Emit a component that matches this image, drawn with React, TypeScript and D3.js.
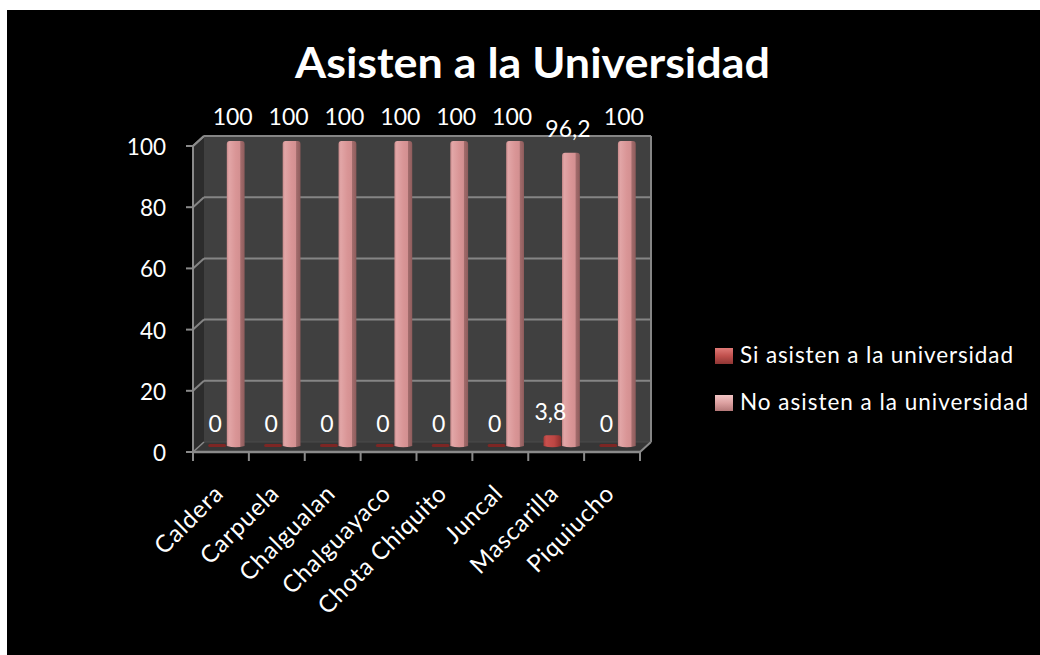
import React from "react";
import * as d3 from "d3";

const categories = ["Caldera", "Carpuela", "Chalgualan", "Chalguayaco", "Chota Chiquito", "Juncal", "Mascarilla", "Piquiucho"];
const seriesNames = ["Si asisten a la universidad", "No asisten a la universidad"];
const siValues = [0, 0, 0, 0, 0, 0, 3.8, 0];
const noValues = [100, 100, 100, 100, 100, 100, 96.2, 100];
const yTicks = [0, 20, 40, 60, 80, 100];

const W = 1040, H = 655;
const X0 = 193, X1 = 640, Y0 = 452, Y100 = 146;
const DX = 11, DY = -10;

const fmt = (v: number) => String(v).replace(".", ",");

export default function App() {
  const yFront = d3.scaleLinear().domain([0, 100]).range([Y0, Y100]);
  const yMid = (v: number) => yFront(v) + DY / 2;
  const xCat = d3.scaleBand<string>().domain(categories).range([X0, X1]);
  const xGroup = d3.scaleBand<string>().domain(categories)
    .range([X0 + DX / 2, X1 + DX / 2]).paddingInner(0.35).paddingOuter(0.175);
  const xSeries = d3.scaleBand<string>().domain(seriesNames)
    .range([0, xGroup.bandwidth()]).paddingInner(0.04);
  const bw = xSeries.bandwidth();

  const cyl = (x: number, top: number, bottom: number, fill: string, key: string) => {
    const r = 3;
    const h = bottom - top;
    if (h < 4) {
      return <rect key={key} x={x} y={bottom - 3} width={bw} height={3} rx={1.5} fill="#7d2624" />;
    }
    const d = `M${x},${bottom - 1} L${x},${top + r} Q${x},${top} ${x + r},${top} L${x + bw - r},${top} Q${x + bw},${top} ${x + bw},${top + r} L${x + bw},${bottom - 1} Q${x + bw / 2},${bottom + 1.5} ${x},${bottom - 1} Z`;
    return <path key={key} d={d} fill={fill} />;
  };

  const backL = X0 + DX, backR = X1 + DX;

  return (
    <svg width={W} height={H} style={{ position: "absolute", left: 0, top: 0 }}>
      <defs>
        <linearGradient id="gNo" x1="0" x2="1" y1="0" y2="0">
          <stop offset="0" stopColor="#c98a8b" />
          <stop offset="0.12" stopColor="#e2a6a7" />
          <stop offset="0.5" stopColor="#d99596" />
          <stop offset="0.74" stopColor="#d39091" />
          <stop offset="0.78" stopColor="#a26c6c" />
          <stop offset="1" stopColor="#8f5c5c" />
        </linearGradient>
        <linearGradient id="gSi" x1="0" x2="1" y1="0" y2="0">
          <stop offset="0" stopColor="#a83b39" />
          <stop offset="0.15" stopColor="#c8504d" />
          <stop offset="0.6" stopColor="#bd4643" />
          <stop offset="1" stopColor="#8a2e2c" />
        </linearGradient>
        <linearGradient id="lSi" x1="0" x2="0" y1="0" y2="1">
          <stop offset="0" stopColor="#e07a77" />
          <stop offset="0.5" stopColor="#c0504d" />
          <stop offset="1" stopColor="#8f3634" />
        </linearGradient>
        <linearGradient id="lNo" x1="0" x2="0" y1="0" y2="1">
          <stop offset="0" stopColor="#f2c4c4" />
          <stop offset="0.5" stopColor="#dca0a0" />
          <stop offset="1" stopColor="#b47878" />
        </linearGradient>
      </defs>
      <rect x={7} y={10} width={W - 7} height={H - 10} fill="#000" />

      <text x={532.5} y={78} textAnchor="middle" fill="#fff" fontFamily="Lato, sans-serif"
        fontWeight="bold" fontSize={42} textLength={475} lengthAdjust="spacingAndGlyphs">
        Asisten a la Universidad
      </text>

      {/* walls */}
      <polygon points={`${backL},${yFront(100) + DY} ${backR},${yFront(100) + DY} ${backR},${Y0 + DY} ${backL},${Y0 + DY}`} fill="#404040" />
      <polygon points={`${X0},${yFront(100)} ${backL},${yFront(100) + DY} ${backL},${Y0 + DY} ${X0},${Y0}`} fill="#2c2c2c" />
      <polygon points={`${X0},${Y0} ${backL},${Y0 + DY} ${backR},${Y0 + DY} ${X1},${Y0}`} fill="#363636" />

      {yTicks.filter(t => t > 0).map(t => (
        <g key={"g" + t} stroke="#858585" strokeWidth={2} fill="none">
          <line x1={backL} x2={backR} y1={yFront(t) + DY} y2={yFront(t) + DY} />
          <line x1={X0} x2={backL} y1={yFront(t)} y2={yFront(t) + DY} />
        </g>
      ))}
      <line x1={backR} x2={backR} y1={yFront(100) + DY} y2={Y0 + DY} stroke="#858585" strokeWidth={2} />
      <line x1={backL} x2={backR} y1={Y0 + DY} y2={Y0 + DY} stroke="#4a4a4a" strokeWidth={1} />

      {/* bars */}
      {categories.map((c, i) => {
        const gx = xGroup(c)!;
        const sx = gx + xSeries(seriesNames[0])!;
        const nx = gx + xSeries(seriesNames[1])!;
        return (
          <g key={c}>
            {cyl(sx, yMid(siValues[i]), yMid(0), "url(#gSi)", "s" + i)}
            {cyl(nx, yMid(noValues[i]), yMid(0), "url(#gNo)", "n" + i)}
          </g>
        );
      })}

      {/* axes */}
      <line x1={X0} x2={X1} y1={Y0} y2={Y0} stroke="#8a8a8a" strokeWidth={2.5} />
      <line x1={X1} x2={X1 + DX} y1={Y0} y2={Y0 + DY} stroke="#8a8a8a" strokeWidth={2} />
      <line x1={X0} x2={X0} y1={yFront(100)} y2={Y0} stroke="#8a8a8a" strokeWidth={2} />
      <line x1={X0} x2={backL} y1={yFront(100)} y2={yFront(100) + DY} stroke="#8a8a8a" strokeWidth={2} />
      <line x1={X0} x2={backL} y1={Y0} y2={Y0 + DY} stroke="#8a8a8a" strokeWidth={1.5} />
      {yTicks.map(t => (
        <g key={"t" + t}>
          <line x1={186} x2={X0} y1={yFront(t)} y2={yFront(t)} stroke="#8a8a8a" strokeWidth={2} />
          <text x={166} y={yFront(t) + 9} textAnchor="end" fill="#fff" fontFamily="Lato, sans-serif" fontSize={22.5}>{t}</text>
        </g>
      ))}
      {d3.range(categories.length + 1).map(k => {
        const x = k < categories.length ? xCat(categories[k])! : X1;
        return <line key={"x" + k} x1={x} x2={x} y1={Y0} y2={Y0 + 9} stroke="#8a8a8a" strokeWidth={2} />;
      })}

      {/* data labels */}
      {categories.map((c, i) => {
        const gx = xGroup(c)!;
        const sx = gx + xSeries(seriesNames[0])! + bw / 2;
        const nx = gx + xSeries(seriesNames[1])! + bw / 2;
        return (
          <g key={"l" + c} fill="#fff" fontFamily="Lato, sans-serif" fontSize={23} textAnchor="middle">
            <text x={sx - 2} y={yMid(siValues[i]) - 15}>{fmt(siValues[i])}</text>
            <text x={nx - 3} y={yMid(noValues[i]) - 16}>{fmt(noValues[i])}</text>
          </g>
        );
      })}

      {/* category labels */}
      {categories.map(c => {
        const x = xCat(c)! + xCat.bandwidth() / 2 + 4;
        const y = 495;
        return (
          <text key={"c" + c} x={x} y={y} transform={`rotate(-45 ${x} ${y})`} textAnchor="end"
            fill="#fff" fontFamily="Lato, sans-serif" fontSize={24} letterSpacing={0.8}>{c}</text>
        );
      })}

      {/* legend */}
      {seriesNames.map((s, i) => (
        <g key={"lg" + i}>
          <rect x={715} y={348 + i * 47} width={18} height={16} fill={i === 0 ? "url(#lSi)" : "url(#lNo)"} />
          <text x={740} y={363 + i * 47} fill="#fff" fontFamily="Lato, sans-serif" fontSize={22.5}
            textLength={i === 0 ? 273 : 288}>{s}</text>
        </g>
      ))}
    </svg>
  );
}
